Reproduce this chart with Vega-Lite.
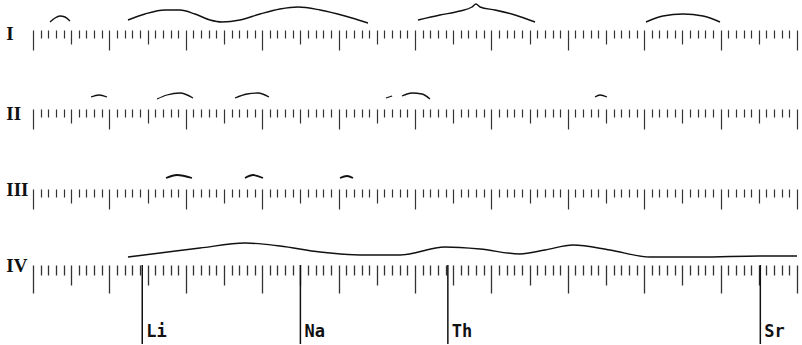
{
  "$schema": "https://vega.github.io/schema/vega-lite/v6.json",
  "background": "white",
  "padding": {"left": 6, "top": 1, "right": 0, "bottom": 0},
  "spacing": 0,
  "config": {"view": {"stroke": null}},
  "datasets": {
    "curves": [
      {"row": "I", "band": "a", "x": 2.23, "h": 8},
      {"row": "I", "band": "a", "x": 2.88, "h": 12},
      {"row": "I", "band": "a", "x": 3.53, "h": 14},
      {"row": "I", "band": "a", "x": 4.19, "h": 13},
      {"row": "I", "band": "a", "x": 4.84, "h": 9},
      {"row": "I", "band": "b", "x": 12.43, "h": 10},
      {"row": "I", "band": "b", "x": 14.66, "h": 16},
      {"row": "I", "band": "b", "x": 17.28, "h": 20},
      {"row": "I", "band": "b", "x": 19.24, "h": 20},
      {"row": "I", "band": "b", "x": 21.2, "h": 16},
      {"row": "I", "band": "b", "x": 23.17, "h": 10},
      {"row": "I", "band": "b", "x": 24.74, "h": 8},
      {"row": "I", "band": "b", "x": 27.09, "h": 10},
      {"row": "I", "band": "b", "x": 29.71, "h": 16},
      {"row": "I", "band": "b", "x": 32.33, "h": 21},
      {"row": "I", "band": "b", "x": 34.69, "h": 23},
      {"row": "I", "band": "b", "x": 37.57, "h": 20},
      {"row": "I", "band": "b", "x": 40.84, "h": 14},
      {"row": "I", "band": "b", "x": 43.85, "h": 7},
      {"row": "I", "band": "c", "x": 50.39, "h": 10},
      {"row": "I", "band": "c", "x": 53.27, "h": 15},
      {"row": "I", "band": "c", "x": 55.89, "h": 19},
      {"row": "I", "band": "c", "x": 57.46, "h": 23},
      {"row": "I", "band": "c", "x": 57.98, "h": 26},
      {"row": "I", "band": "c", "x": 58.51, "h": 23},
      {"row": "I", "band": "c", "x": 60.47, "h": 20},
      {"row": "I", "band": "c", "x": 63.09, "h": 15},
      {"row": "I", "band": "c", "x": 65.71, "h": 8},
      {"row": "I", "band": "d", "x": 80.24, "h": 8},
      {"row": "I", "band": "d", "x": 82.46, "h": 14},
      {"row": "I", "band": "d", "x": 85.08, "h": 16},
      {"row": "I", "band": "d", "x": 87.7, "h": 14},
      {"row": "I", "band": "d", "x": 89.92, "h": 8},
      {"row": "II", "band": "a", "x": 7.59, "h": 12},
      {"row": "II", "band": "a", "x": 8.64, "h": 14},
      {"row": "II", "band": "a", "x": 9.69, "h": 12},
      {"row": "II", "band": "b", "x": 16.23, "h": 10},
      {"row": "II", "band": "b", "x": 17.54, "h": 14},
      {"row": "II", "band": "b", "x": 19.24, "h": 16},
      {"row": "II", "band": "b", "x": 20.94, "h": 11},
      {"row": "II", "band": "c", "x": 26.44, "h": 11},
      {"row": "II", "band": "c", "x": 28.01, "h": 15},
      {"row": "II", "band": "c", "x": 29.45, "h": 16},
      {"row": "II", "band": "c", "x": 30.89, "h": 12},
      {"row": "II", "band": "d", "x": 46.2, "h": 11},
      {"row": "II", "band": "d", "x": 47.0, "h": 13},
      {"row": "II", "band": "e", "x": 48.3, "h": 13},
      {"row": "II", "band": "e", "x": 49.61, "h": 16},
      {"row": "II", "band": "e", "x": 50.92, "h": 15},
      {"row": "II", "band": "e", "x": 51.96, "h": 10},
      {"row": "II", "band": "f", "x": 73.56, "h": 12},
      {"row": "II", "band": "f", "x": 74.21, "h": 14},
      {"row": "II", "band": "f", "x": 75.13, "h": 12},
      {"row": "III", "band": "a", "x": 17.41, "h": 11},
      {"row": "III", "band": "a", "x": 18.85, "h": 14},
      {"row": "III", "band": "a", "x": 20.81, "h": 11},
      {"row": "III", "band": "b", "x": 27.75, "h": 11},
      {"row": "III", "band": "b", "x": 28.8, "h": 14},
      {"row": "III", "band": "b", "x": 30.1, "h": 11},
      {"row": "III", "band": "c", "x": 40.18, "h": 11},
      {"row": "III", "band": "c", "x": 41.1, "h": 13},
      {"row": "III", "band": "c", "x": 41.88, "h": 11},
      {"row": "IV", "band": "a", "x": 12.43, "h": 8},
      {"row": "IV", "band": "a", "x": 16.62, "h": 12},
      {"row": "IV", "band": "a", "x": 21.86, "h": 17},
      {"row": "IV", "band": "a", "x": 27.75, "h": 22},
      {"row": "IV", "band": "a", "x": 32.33, "h": 19},
      {"row": "IV", "band": "a", "x": 37.57, "h": 13},
      {"row": "IV", "band": "a", "x": 42.8, "h": 10},
      {"row": "IV", "band": "a", "x": 48.04, "h": 10},
      {"row": "IV", "band": "a", "x": 53.93, "h": 18},
      {"row": "IV", "band": "a", "x": 58.51, "h": 16},
      {"row": "IV", "band": "a", "x": 63.74, "h": 11},
      {"row": "IV", "band": "a", "x": 67.02, "h": 15},
      {"row": "IV", "band": "a", "x": 70.68, "h": 20},
      {"row": "IV", "band": "a", "x": 75.52, "h": 15},
      {"row": "IV", "band": "a", "x": 80.76, "h": 8},
      {"row": "IV", "band": "a", "x": 87.3, "h": 8},
      {"row": "IV", "band": "a", "x": 95.16, "h": 9},
      {"row": "IV", "band": "a", "x": 100, "h": 9}
    ],
    "rows": [{"row": "I"}, {"row": "II"}, {"row": "III"}, {"row": "IV"}],
    "lines": [
      {"element": "Li", "pos": 14.3},
      {"element": "Na", "pos": 35.0},
      {"element": "Th", "pos": 54.3},
      {"element": "Sr", "pos": 95.2}
    ]
  },
  "vconcat": [
    {
      "width": 764, "height": 28,
      "layer": [
        {
          "data": {"name": "curves"},
          "transform": [{"filter": "datum.row === 'I'"}],
          "mark": {"type": "line", "interpolate": "monotone", "color": "#111", "strokeWidth": 1.4},
          "encoding": {
            "x": {"field": "x", "type": "quantitative", "scale": {"domain": [0, 100], "nice": false, "zero": false},
              "axis": {"labels": false, "domain": false, "grid": false, "title": null, "tickCount": 100, "tickWidth": 1.2, "tickColor": "#333",
                "tickSize": {"condition": [{"test": "datum.value % 10 === 0", "value": 20}, {"test": "datum.value % 5 === 0", "value": 14}], "value": 8}}},
            "y": {"field": "h", "type": "quantitative", "scale": {"domain": [0, 28], "nice": false, "zero": false}, "axis": null},
            "detail": {"field": "band"}
          }
        },
        {
          "data": {"name": "rows"},
          "transform": [{"filter": "datum.row === 'I'"}],
          "mark": {"type": "text", "align": "left", "baseline": "middle", "font": "Liberation Serif", "fontWeight": "bold", "fontSize": 19, "color": "#111"},
          "encoding": {"x": {"datum": -3.5}, "y": {"datum": -4}, "text": {"field": "row"}}
        }
      ]
    },
    {
      "width": 764, "height": 58,
      "layer": [
        {
          "data": {"name": "curves"},
          "transform": [{"filter": "datum.row === 'II'"}],
          "mark": {"type": "line", "interpolate": "monotone", "color": "#111", "strokeWidth": 1.3},
          "encoding": {
            "x": {"field": "x", "type": "quantitative", "scale": {"domain": [0, 100], "nice": false, "zero": false},
              "axis": {"labels": false, "domain": false, "grid": false, "title": null, "tickCount": 100, "tickWidth": 1.2, "tickColor": "#333",
                "tickSize": {"condition": [{"test": "datum.value % 10 === 0", "value": 20}, {"test": "datum.value % 5 === 0", "value": 14}], "value": 8}}},
            "y": {"field": "h", "type": "quantitative", "scale": {"domain": [0, 58], "nice": false, "zero": false}, "axis": null},
            "detail": {"field": "band"}
          }
        },
        {
          "data": {"name": "rows"},
          "transform": [{"filter": "datum.row === 'II'"}],
          "mark": {"type": "text", "align": "left", "baseline": "middle", "font": "Liberation Serif", "fontWeight": "bold", "fontSize": 19, "color": "#111"},
          "encoding": {"x": {"datum": -3.5}, "y": {"datum": -5}, "text": {"field": "row"}}
        }
      ]
    },
    {
      "width": 764, "height": 59,
      "layer": [
        {
          "data": {"name": "curves"},
          "transform": [{"filter": "datum.row === 'III'"}],
          "mark": {"type": "line", "interpolate": "monotone", "color": "#111", "strokeWidth": 1.8},
          "encoding": {
            "x": {"field": "x", "type": "quantitative", "scale": {"domain": [0, 100], "nice": false, "zero": false},
              "axis": {"labels": false, "domain": false, "grid": false, "title": null, "tickCount": 100, "tickWidth": 1.2, "tickColor": "#333",
                "tickSize": {"condition": [{"test": "datum.value % 10 === 0", "value": 20}, {"test": "datum.value % 5 === 0", "value": 14}], "value": 8}}},
            "y": {"field": "h", "type": "quantitative", "scale": {"domain": [0, 59], "nice": false, "zero": false}, "axis": null},
            "detail": {"field": "band"}
          }
        },
        {
          "data": {"name": "rows"},
          "transform": [{"filter": "datum.row === 'III'"}],
          "mark": {"type": "text", "align": "left", "baseline": "middle", "font": "Liberation Serif", "fontWeight": "bold", "fontSize": 19, "color": "#111"},
          "encoding": {"x": {"datum": -3.5}, "y": {"datum": -1}, "text": {"field": "row"}}
        }
      ]
    },
    {
      "width": 764, "height": 55,
      "layer": [
        {
          "data": {"name": "curves"},
          "transform": [{"filter": "datum.row === 'IV'"}],
          "mark": {"type": "line", "interpolate": "monotone", "color": "#111", "strokeWidth": 1.4},
          "encoding": {
            "x": {"field": "x", "type": "quantitative", "scale": {"domain": [0, 100], "nice": false, "zero": false},
              "axis": {"labels": false, "domain": false, "grid": false, "title": null, "tickCount": 100, "tickWidth": 1.3, "tickColor": "#333",
                "tickSize": {"condition": [{"test": "datum.value % 10 === 0", "value": 28}, {"test": "datum.value % 5 === 0", "value": 20}], "value": 10}}},
            "y": {"field": "h", "type": "quantitative", "scale": {"domain": [0, 55], "nice": false, "zero": false}, "axis": null},
            "detail": {"field": "band"}
          }
        },
        {
          "data": {"name": "rows"},
          "transform": [{"filter": "datum.row === 'IV'"}],
          "mark": {"type": "text", "align": "left", "baseline": "middle", "font": "Liberation Serif", "fontWeight": "bold", "fontSize": 19, "color": "#111"},
          "encoding": {"x": {"datum": -3.5}, "y": {"datum": -1}, "text": {"field": "row"}}
        },
        {
          "data": {"name": "lines"},
          "mark": {"type": "rule", "color": "#111", "strokeWidth": 1.5},
          "encoding": {"x": {"field": "pos", "type": "quantitative"}, "y": {"datum": 0}, "y2": {"datum": -79}}
        },
        {
          "data": {"name": "lines"},
          "mark": {"type": "text", "align": "left", "baseline": "middle", "dx": 4, "font": "DejaVu Sans Mono", "fontWeight": "bold", "fontSize": 17, "color": "#111"},
          "encoding": {"x": {"field": "pos", "type": "quantitative"}, "y": {"datum": -67}, "text": {"field": "element"}}
        }
      ]
    }
  ]
}
